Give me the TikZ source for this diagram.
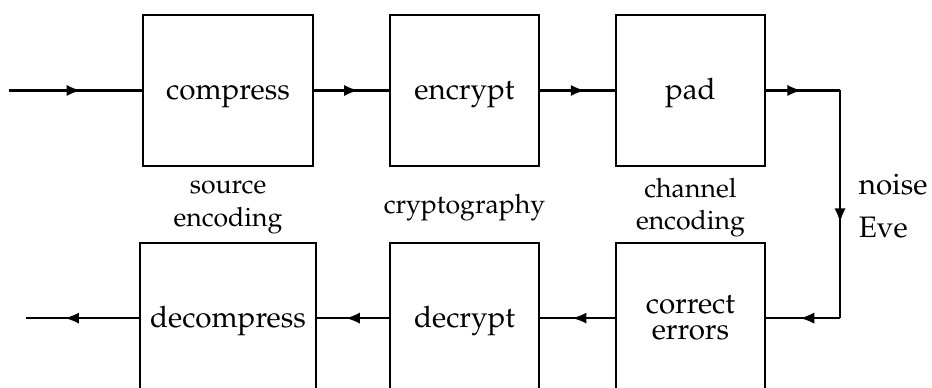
\documentclass[tikz,border=0pt]{standalone}
\usepackage[T1]{fontenc}
\usepackage{mathpazo}
\usepackage{tikz}
\usetikzlibrary{shapes, arrows.meta, positioning, decorations.markings}
\tikzstyle{block} = [draw, rectangle, minimum height=1.79cm, minimum width=1.77cm, align=center, text height=6.4pt, text depth=0pt]
\tikzstyle{wide} = [block, minimum width=2.02cm]
\tikzstyle{stage} = [align=center, font=\small]
\tikzstyle{input} = [coordinate]
\tikzstyle{output} = [coordinate]
\tikzset{flow/.style={postaction={decorate}, decoration={markings, mark=at position #1 with {\arrow{>}}}}, flow/.default=0.57}

\begin{document}
\begin{tikzpicture}[auto, node distance=0.89cm, >={Latex[length=4.8pt, width=3.8pt]}, line width=0.7pt]
        % page frame
        \useasboundingbox (-2.709,1.075) rectangle (8.364,-3.534);
        \clip (-2.709,1.075) rectangle (8.364,-3.534);

        % sender side
        \node [wide] (compress) at (0,0) {compress};
        \node [block, right=of compress] (encrypt) {encrypt};
        \node [block, right=of encrypt] (pad) {pad};

        % receiver side
        \node [wide, below=of compress] (decompress) {decompress};
        \node [block, below=of encrypt] (decrypt) {decrypt};
        \node [block, below=of pad, text height=, text depth=] (correct) {correct\\[-3.2pt]errors};

        % stage names
        \node [stage, below of=compress, node distance=1.39cm] (srcenc) {source\\encoding};
        \node [stage, below of=encrypt, node distance=1.39cm] (crypto) {cryptography};
        \node [stage, below of=pad, node distance=1.39cm] (chanenc) {channel\\encoding};

        % end points and the channel
        \node [input, left=1.58cm of compress.west] (in) {};
        \node [output, left=1.34cm of decompress.west] (out) {};
        \node [coordinate, right=0.88cm of pad.east] (tx) {};
        \coordinate (rx) at (tx |- correct);

        \draw [flow=0.54] (in) -- (compress);
        \draw [flow=0.59] (compress) -- (encrypt);
        \draw [flow=0.6] (encrypt) -- (pad);
        \draw [flow=0.48] (pad) -- (tx);
        \draw [flow=0.58] (tx) -- node [pos=0.415, right, xshift=6pt, inner sep=0pt] (noise) {noise}
                node [pos=0.6, right, xshift=6pt, inner sep=0pt] (eve) {Eve} (rx);
        \draw [flow=0.54] (rx) -- (correct);
        \draw [flow] (correct) -- (decrypt);
        \draw [flow=0.6] (decrypt) -- (decompress);
        \draw [flow=0.66] (decompress) -- (out);
    \end{tikzpicture}
\end{document}
